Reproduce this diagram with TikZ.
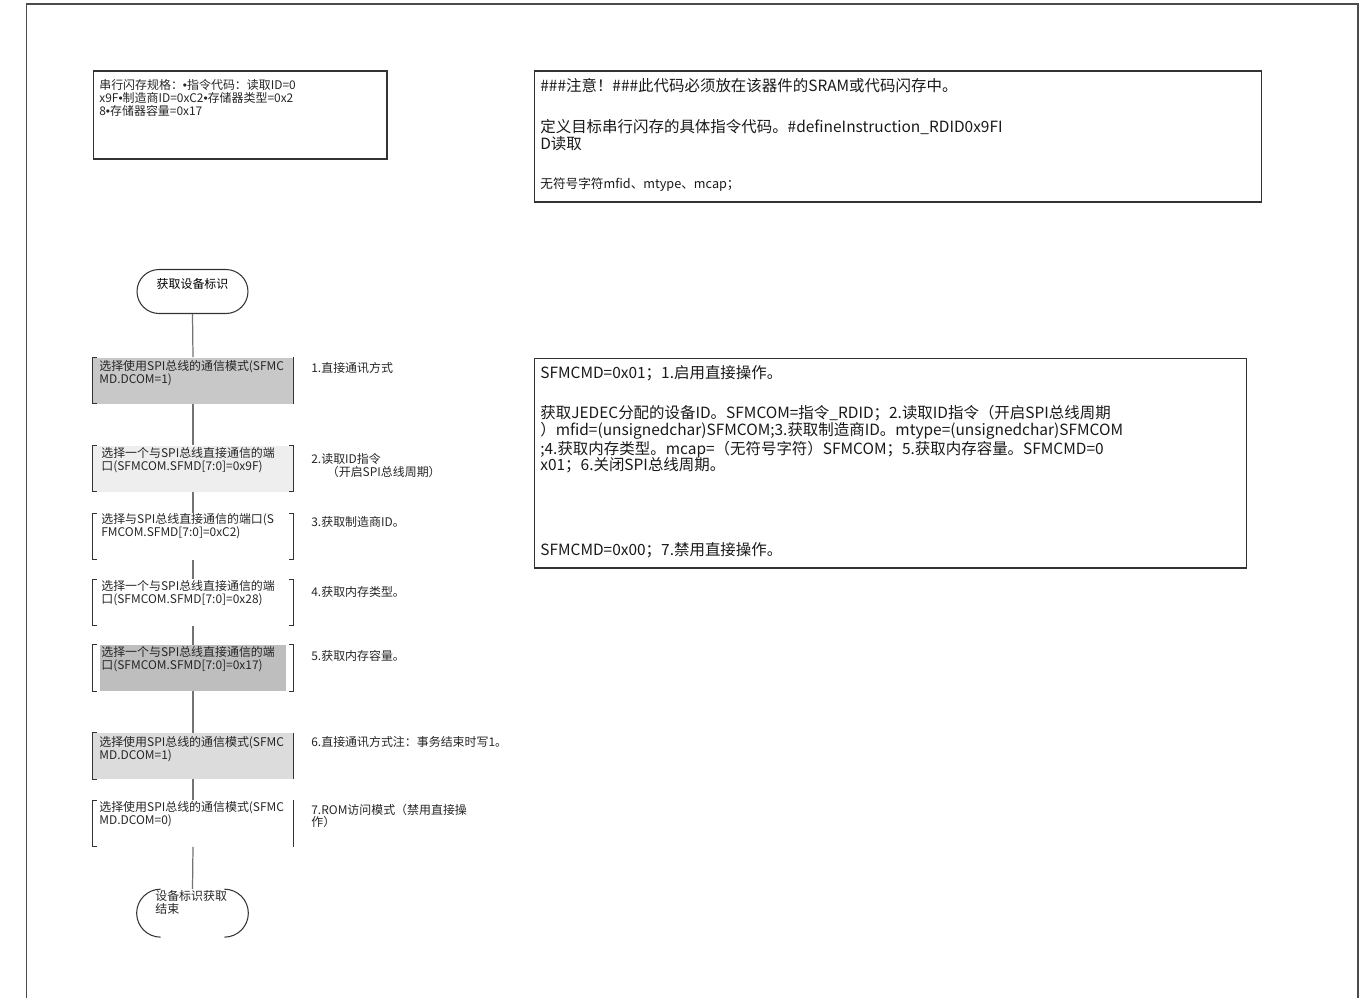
\documentclass[tikz,border=0pt]{standalone}
\usepackage{fontspec}
\setmainfont{Noto Sans CJK SC}
\newfontfamily\dotfont{Liberation Sans}
\usepackage{tikz}
\usetikzlibrary{positioning}

\definecolor{fillA}{HTML}{C8C8C8}
\definecolor{fillB}{HTML}{EEEEEE}
\definecolor{fillC}{HTML}{BEBEBE}
\definecolor{fillD}{HTML}{DCDCDC}
\definecolor{inkgray}{HTML}{333333}

% bracket edges of the process boxes
\newcommand{\leftbrk}[1]{\draw[edge] ([xshift=0.08cm]#1.north west) -- (#1.north west) -- (#1.south west) -- ([xshift=0.08cm]#1.south west);}
\newcommand{\rightbrk}[1]{\draw[edge] ([xshift=-0.08cm]#1.north east) -- (#1.north east) -- (#1.south east) -- ([xshift=-0.08cm]#1.south east);}
\newcommand{\rightbar}[1]{\draw[edge] (#1.north east) -- (#1.south east);}
\newcommand{\dotsep}{{\dotfont •}}

\begin{document}
\begin{tikzpicture}[
    x=0.02cm, y=-0.02cm,
    proc/.style={rectangle, minimum width=4cm, minimum height=0.92cm, inner sep=0pt},
    term/.style={rectangle, rounded corners=0.44cm, minimum width=2.22cm, minimum height=0.88cm, inner sep=0pt},
    memo/.style={rectangle, draw=inkgray, line width=0.6pt, inner sep=0pt},
    edge/.style={draw=inkgray, line width=0.6pt},
    link/.style={draw=black!55, line width=0.7pt},
    boxtxt/.style={anchor=north west, align=left, inner sep=0pt, text=black!85, font=\fontsize{6.8}{7}\selectfont},
    note/.style={anchor=north west, align=left, inner sep=0pt, text=black!85, font=\fontsize{6.8}{7.2}\selectfont},
    bigtxt/.style={anchor=north west, align=left, inner sep=0pt, text=black!90, font=\fontsize{8.8}{9.5}\selectfont}
]
\useasboundingbox (0,0) rectangle (1370,998);

% outer frame
\draw[draw=black!70, line width=0.85pt] (26.5,998) -- (26.5,4) -- (1358,4) -- (1358,998);

% spec and notes
\node[memo, minimum width=5.88cm, minimum height=1.76cm] (spec) at (240,115) {};
\node[boxtxt, font=\fontsize{6.8}{7.4}\selectfont] (spectxt) at (99,79) {串行闪存规格：\dotsep 指令代码：读取ID=0\\x9F\dotsep 制造商ID=0xC2\dotsep 存储器类型=0x2\\8\dotsep 存储器容量=0x17};

\node[memo, minimum width=14.56cm, minimum height=2.62cm] (warn) at (898,136.5) {};
\node[bigtxt] (warn1) at (540,78) {\#\#\#注意！\#\#\#此代码必须放在该器件的SRAM或代码闪存中。};
\node[bigtxt] (warn2) at (540,119) {定义目标串行闪存的具体指令代码。\#defineInstruction\_RDID0x9FI\\D读取};
\node[bigtxt, font=\fontsize{7.2}{8}\selectfont] (warn3) at (540,177.5) {无符号字符mfid、mtype、mcap；};

\node[memo, minimum width=14.26cm, minimum height=4.2cm] (code) at (890.5,463) {};
\node[bigtxt] (code1) at (540,365) {SFMCMD=0x01；1.启用直接操作。};
\node[bigtxt] (code2) at (540,405) {获取JEDEC分配的设备ID。SFMCOM=指令\_RDID；2.读取ID指令（开启SPI总线周期\\）mfid=(unsignedchar)SFMCOM;3.获取制造商ID。mtype=(unsignedchar)SFMCOM\\;4.获取内存类型。mcap=（无符号字符）SFMCOM；5.获取内存容量。SFMCMD=0\\x01；6.关闭SPI总线周期。};
\node[bigtxt] (code3) at (540,542) {SFMCMD=0x00；7.禁用直接操作。};

% flow
\node[term, draw=inkgray, line width=0.6pt, text height=6pt, text depth=9pt, font=\fontsize{6.8}{7.2}\selectfont] (start) at (192.5,291.5) {获取设备标识};

\node[proc, fill=fillA] (b1) at (193,380.5) {};
\node[proc, fill=fillB] (b2) at (193,468.5) {};
\node[proc] (b3) at (193,536.5) {};
\node[proc] (b4) at (193,602.5) {};
\node[proc] (b5) at (193,668) {};
\fill[fillC] ([xshift=0.14cm]b5.north west) rectangle ([xshift=-0.14cm]b5.south east);
\node[proc, fill=fillD] (b6) at (193,756) {};
\node[proc] (b7) at (193,823.5) {};
\node[term] (stop) at (192.5,911.5) {};

\leftbrk{b1} \rightbar{b1}
\leftbrk{b2} \rightbrk{b2}
\leftbrk{b3} \rightbrk{b3}
\leftbrk{b4} \rightbrk{b4}
\leftbrk{b5} \rightbrk{b5}
\leftbrk{b6} \rightbar{b6}
\leftbrk{b7} \rightbar{b7}
\draw[edge] ([xshift=0.48cm]stop.north west) arc[start angle=90, end angle=270, radius=0.48cm];
\draw[edge] ([xshift=-0.48cm]stop.north east) arc[start angle=90, end angle=-90, radius=0.48cm];

\draw[link] (start.south) -- (b1.north);
\draw[link] (b1.south) -- (b2.north);
\draw[link] (b2.south) -- (b3.north);
\draw[link] (b3.south) -- (b4.north);
\draw[link] (b4.south) -- (b5.north);
\draw[link] (b5.south) -- (b6.north);
\draw[link] (b6.south) -- (b7.north);
\draw[link] (b7.south) -- (stop.north);

% box texts
\node[boxtxt] (t1) at (99,360.5) {选择使用SPI总线的通信模式(SFMC\\MD.DCOM=1)};
\node[boxtxt] (t2) at (101,447.5) {选择一个与SPI总线直接通信的端\\口(SFMCOM.SFMD[7:0]=0x9F)};
\node[boxtxt] (t3) at (101,513.5) {选择与SPI总线直接通信的端口(S\\FMCOM.SFMD[7:0]=0xC2)};
\node[boxtxt] (t4) at (101,580.5) {选择一个与SPI总线直接通信的端\\口(SFMCOM.SFMD[7:0]=0x28)};
\node[boxtxt] (t5) at (101,646.5) {选择一个与SPI总线直接通信的端\\口(SFMCOM.SFMD[7:0]=0x17)};
\node[boxtxt] (t6) at (99,736.5) {选择使用SPI总线的通信模式(SFMC\\MD.DCOM=1)};
\node[boxtxt] (t7) at (99,801.5) {选择使用SPI总线的通信模式(SFMC\\MD.DCOM=0)};
\node[boxtxt] (stoptxt) at (155,890.5) {设备标识获取\\结束};

% step notes
\node[note] (n1) at (311,362.5) {1.直接通讯方式};
\node[note] (n2) at (311,453.5) {2.读取ID指令\\\hspace*{1.3em}（开启SPI总线周期）};
\node[note] (n3) at (311,516.5) {3.获取制造商ID。};
\node[note] (n4) at (311,586.5) {4.获取内存类型。};
\node[note] (n5) at (311,650.5) {5.获取内存容量。};
\node[note] (n6) at (311,736.5) {6.直接通讯方式注：事务结束时写1。};
\node[note] (n7) at (311,803.5) {7.ROM访问模式（禁用直接操\\作）};

\end{tikzpicture}
\end{document}
